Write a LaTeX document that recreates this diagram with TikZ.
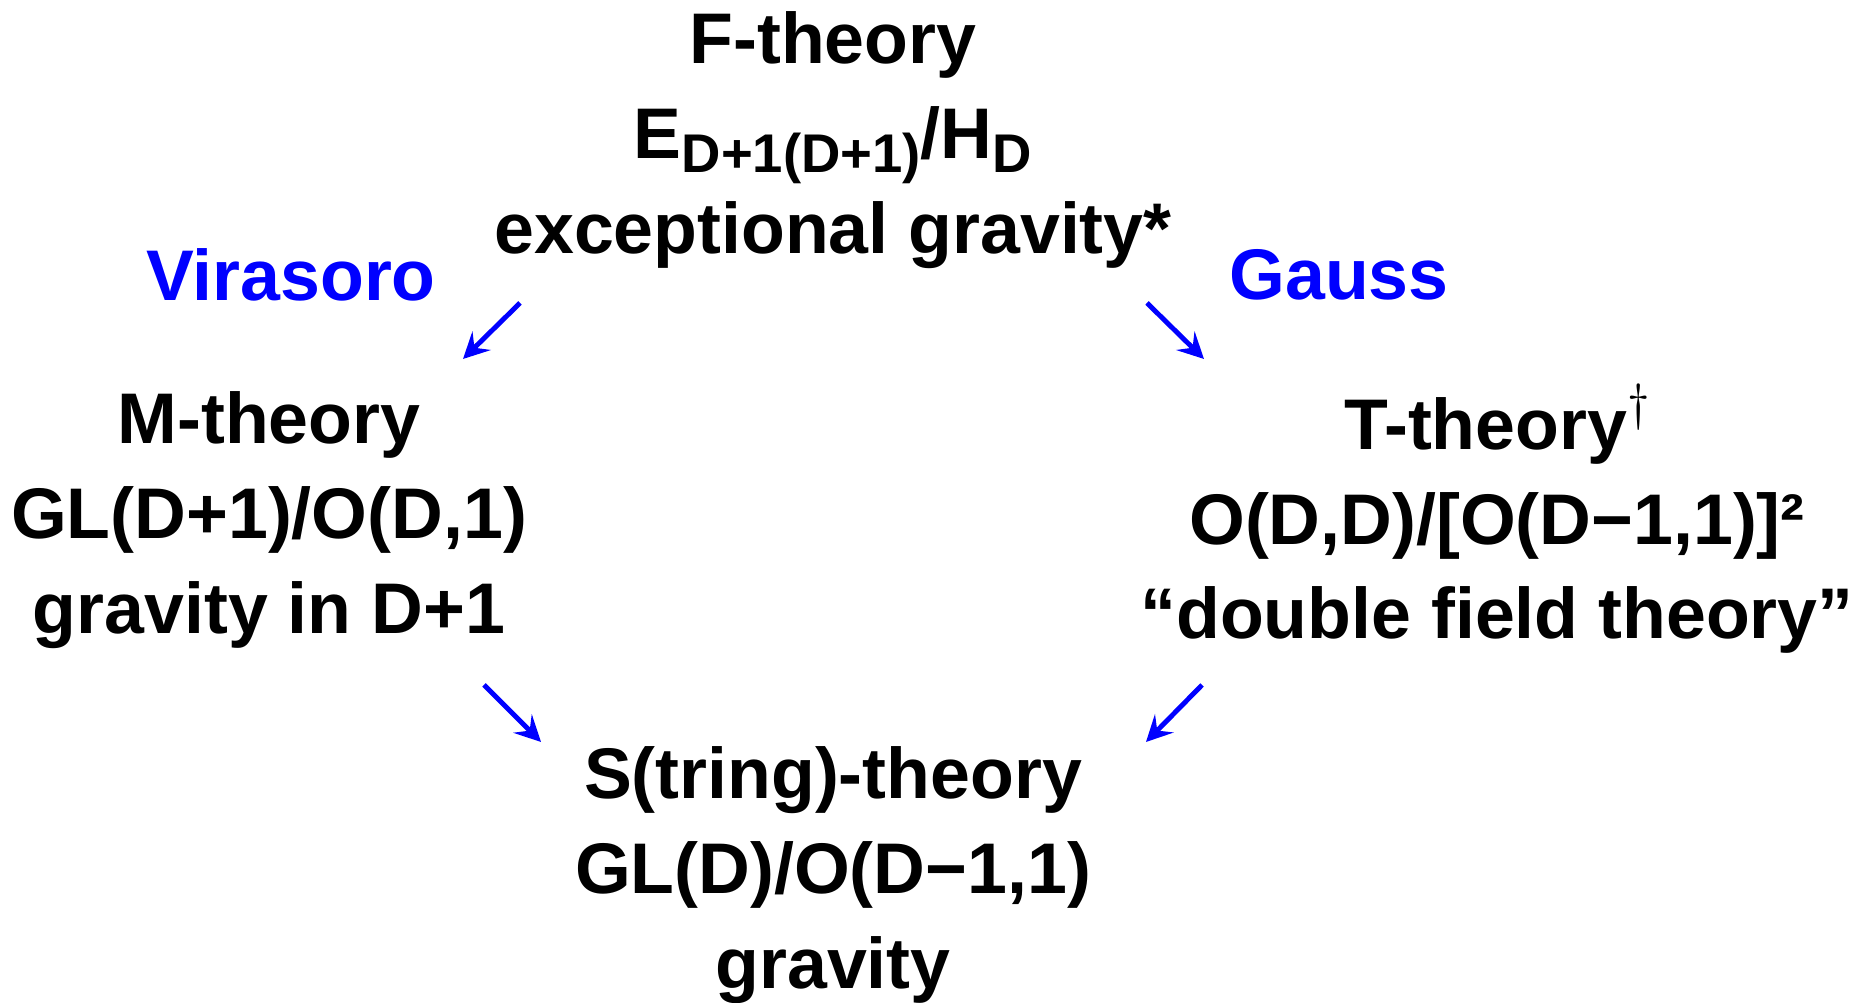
\documentclass[tikz,border=0pt]{standalone}
\usepackage{fontspec}
\setmainfont{Liberation Sans}
\usetikzlibrary{arrows.meta, positioning, calc}
\definecolor{arrowblue}{HTML}{0000FF}

\begin{document}
\begin{tikzpicture}[>={Stealth[length=2.6mm, width=2.6mm, inset=1mm]},
  theory/.style={align=center, font=\fontsize{20.4}{27}\selectfont\bfseries, inner sep=0pt},
  sym/.style={text=arrowblue, font=\fontsize{20.4}{27}\selectfont\bfseries, inner sep=0pt},
  flow/.style={->, arrowblue, line width=1.4pt}]

% Canvas
\useasboundingbox (0,0) rectangle (18.73,10.03);

% Theories
\node[theory] (ftheory) at (8.33,8.63)
  {F-theory\\ E\raisebox{-0.2em}{\fontsize{15.5}{16}\selectfont D+1(D+1)}/H\raisebox{-0.2em}{\fontsize{15.5}{16}\selectfont D}\\ exceptional gravity*};
\node[theory] (mtheory) at (2.69,4.83)
  {M-theory\\ GL(D+1)/O(D,1)\\ gravity in D+1};
\node[theory] (ttheory) at (14.97,4.84)
  {T-theory\raisebox{8.5pt}{\fontsize{14}{14}\selectfont$\dagger$}\\ O(D,D)/[O(D−1,1)]²\\ “double field theory”};
\node[theory] (stheory) at (8.33,1.28)
  {S(tring)-theory\\ GL(D)/O(D−1,1)\\ gravity};

% Constraints
\node[sym] (virasoro) at (2.91,7.28) {Virasoro};
\node[sym] (gauss) at (13.39,7.28) {Gauss};

% Arrows
\coordinate (fm1) at (5.20,7.00);
\coordinate (fm2) at (4.63,6.44);
\coordinate (ft1) at (11.47,7.00);
\coordinate (ft2) at (12.04,6.44);
\coordinate (ms1) at (4.84,3.18);
\coordinate (ms2) at (5.41,2.61);
\coordinate (ts1) at (12.02,3.18);
\coordinate (ts2) at (11.46,2.61);

\draw[flow] (fm1) -- (fm2);
\draw[flow] (ft1) -- (ft2);
\draw[flow] (ms1) -- (ms2);
\draw[flow] (ts1) -- (ts2);

\end{tikzpicture}
\end{document}
